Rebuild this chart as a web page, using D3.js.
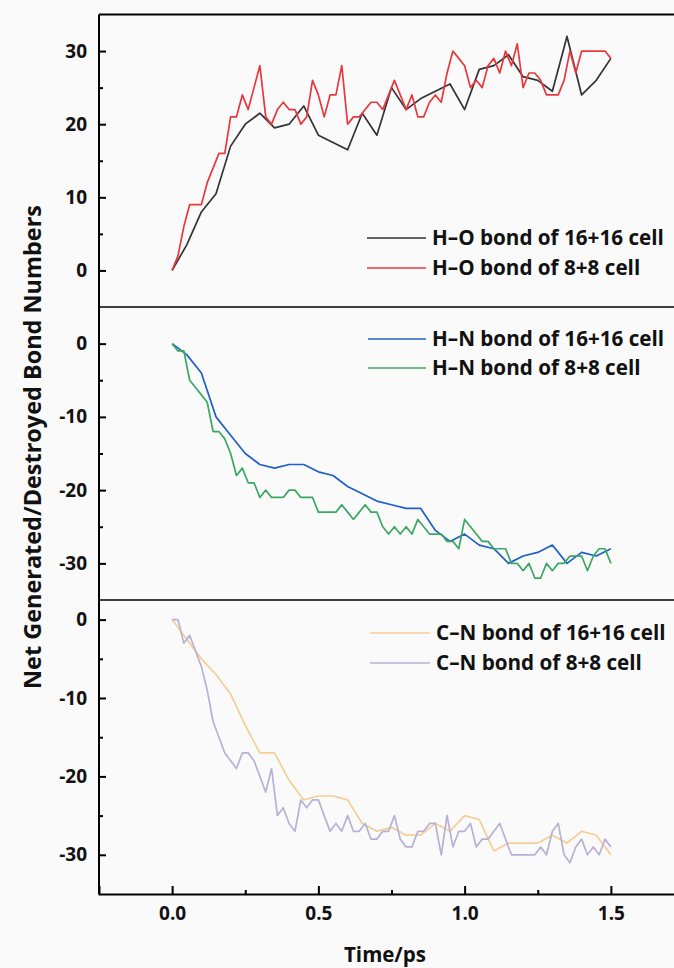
<!DOCTYPE html>
<html>
<head>
<meta charset="utf-8">
<script src="https://cdn.jsdelivr.net/npm/d3@7"></script>
<style>
  html, body { margin: 0; padding: 0; background: #fafafa; }
  svg { display: block; }
</style>
</head>
<body>
<svg id="chart" width="674" height="968"></svg>
<script>
// ---- data ----
const xTicks = [0.0, 0.5, 1.0, 1.5];
const dtCoarse = 0.05;   // 16+16 cell series sampling
const dtFine = 0.02;     // 8+8 cell series sampling

const hoLabels = ["H\u2013O bond of 16+16 cell", "H\u2013O bond of 8+8 cell"];
const ho16 = [0, 3.5, 8, 10.5, 17, 20, 21.5, 19.5, 20, 22.5, 18.5, 17.5, 16.5, 21.5, 18.5, 25,
  22, 23.5, 24.5, 25.5, 22, 27.5, 28, 29.5, 26.5, 26, 24.5, 32, 24, 26, 29];
const ho8 = [0, 2, 6, 9, 9, 9, 12, 14, 16, 16, 21, 21, 24, 22, 25, 28, 21, 20, 22, 23,
  22, 22, 20, 21, 26, 24, 21, 24, 24, 28, 20, 21, 21, 22, 23, 23, 22, 24, 26, 24,
  22, 24, 21, 21, 23, 24, 23, 27, 30, 29, 28, 25, 26, 25, 28, 29, 27, 30, 28, 31,
  25, 27, 27, 26, 24, 24, 24, 26, 30, 27, 30, 30, 30, 30, 30, 29];

const hnLabels = ["H\u2013N bond of 16+16 cell", "H\u2013N bond of 8+8 cell"];
const hn16 = [0, -1.5, -4, -10, -12.5, -15, -16.5, -17, -16.5, -16.5, -17.5, -18, -19.5, -20.5,
  -21.5, -22, -22.5, -22.5, -25.5, -27, -26, -27.5, -28, -30, -29, -28.5, -27.5, -30, -28.5, -29, -28];
const hn8 = [0, -1, -1, -5, -6, -7, -8, -12, -12, -13, -15, -18, -17, -19, -19, -21, -20, -21, -21, -21,
  -20, -20, -21, -21, -21, -23, -23, -23, -23, -22, -23, -24, -23, -22, -23, -23, -25, -26, -25, -26,
  -25, -26, -24, -25, -26, -26, -26, -27, -27, -28, -24, -25, -26, -27, -27, -28, -28, -28, -30, -30,
  -31, -30, -32, -32, -30, -31, -30, -30, -29, -29, -29, -31, -29, -28, -28, -30];

const cnLabels = ["C\u2013N bond of 16+16 cell", "C\u2013N bond of 8+8 cell"];
const cn16 = [0, -2.5, -5, -7, -9.5, -13.5, -17, -17, -20.5, -23, -22.5, -22.5, -23, -26, -27, -26.5,
  -27.5, -27.5, -26, -27, -25, -25.5, -29.5, -28.5, -28.5, -28.5, -27.5, -28.5, -27, -27.5, -30];
const cn8 = [0, 0, -3, -2, -4, -6, -9, -13, -15, -17, -18, -19, -17, -17, -18, -20, -22, -19, -25, -24,
  -26, -27, -23, -24, -23, -23, -25, -27, -26, -27, -25, -27, -27, -26, -28, -28, -27, -27, -25, -28,
  -29, -29, -27, -27, -26, -26, -30, -25, -29, -27, -27, -26, -29, -28, -28, -27, -26, -28, -30, -30,
  -30, -30, -30, -29, -30, -27, -26, -30, -31, -29, -28, -30, -29, -30, -28, -29];

const colors = {
  ho16: "#333333", ho8: "#e8383d",
  hn16: "#2060c8", hn8: "#3aa763",
  cn16: "#f6cd94", cn8: "#b9b0d6"
};

// ---- layout ----
const svg = d3.select("#chart");
const left = 99, axisRight = 684;
const x = d3.scaleLinear().domain([-0.25, 1.75]).range([left, axisRight]);
const FONT = "'Open Sans', Lato, sans-serif";
const TICK_FS = 19;

// shrink/grow font so a text element spans a target width
function fitWidth(sel, target) {
  const node = sel.node();
  const fs = parseFloat(sel.attr("font-size"));
  const w = node.getComputedTextLength();
  if (w > 0) sel.attr("font-size", (fs * target / w).toFixed(2));
  return sel;
}
const intFmt = d => String(d);

const panels = [
  { top: 14.5, bottom: 307, domain: [-5, 35], major: [0, 10, 20, 30], minor: [5, 15, 25],
    series: [{ v: ho16, dt: dtCoarse, c: colors.ho16, l: hoLabels[0] }, { v: ho8, dt: dtFine, c: colors.ho8, l: hoLabels[1] }],
    legend: { x0: 367, x1: 426, y: [238, 268] } },
  { top: 307, bottom: 600, domain: [-35, 5], major: [0, -10, -20, -30], minor: [-5, -15, -25],
    series: [{ v: hn16, dt: dtCoarse, c: colors.hn16, l: hnLabels[0] }, { v: hn8, dt: dtFine, c: colors.hn8, l: hnLabels[1] }],
    legend: { x0: 368, x1: 426, y: [339, 368] } },
  { top: 600, bottom: 894, domain: [-35, 2.5], major: [0, -10, -20, -30], minor: [-5, -15, -25],
    series: [{ v: cn16, dt: dtCoarse, c: colors.cn16, l: cnLabels[0] }, { v: cn8, dt: dtFine, c: colors.cn8, l: cnLabels[1] }],
    legend: { x0: 370, x1: 430, y: [633, 663] } }
];

let legendFont = null;

panels.forEach((p, pi) => {
  const y = d3.scaleLinear().domain(p.domain).range([p.bottom, p.top]);
  const g = svg.append("g");

  p.series.forEach(s => {
    const line = d3.line().x((d, i) => x(i * s.dt)).y(d => y(d));
    g.append("path").datum(s.v)
      .attr("d", line)
      .attr("fill", "none")
      .attr("stroke", s.c)
      .attr("stroke-width", 1.7)
      .attr("stroke-linejoin", "round");
  });

  // y axis major (ticks point inward)
  const yAxis = d3.axisLeft(y).tickValues(p.major).tickSize(-7).tickPadding(12).tickFormat(intFmt);
  const ya = g.append("g").attr("transform", `translate(${left},0)`).call(yAxis);
  ya.select(".domain").remove();
  ya.selectAll(".tick line").attr("stroke", "#000").attr("stroke-width", 2);
  ya.selectAll(".tick text").attr("font-family", FONT).attr("font-weight", "bold")
    .attr("font-size", TICK_FS).attr("fill", "#111");
  // y axis minor
  const yMinor = d3.axisLeft(y).tickValues(p.minor).tickSize(-4).tickFormat("");
  const ym = g.append("g").attr("transform", `translate(${left},0)`).call(yMinor);
  ym.select(".domain").remove();
  ym.selectAll(".tick line").attr("stroke", "#000").attr("stroke-width", 2);

  // top border / divider
  g.append("line").attr("x1", left).attr("x2", 674).attr("y1", p.top).attr("y2", p.top)
    .attr("stroke", "#000").attr("stroke-width", pi === 0 ? 2 : 1.6);

  // legend
  p.series.forEach((s, si) => {
    g.append("line").attr("x1", p.legend.x0).attr("x2", p.legend.x1)
      .attr("y1", p.legend.y[si]).attr("y2", p.legend.y[si])
      .attr("stroke", s.c).attr("stroke-width", 1.7);
    const t = g.append("text").attr("x", p.legend.x1 + 6).attr("y", p.legend.y[si])
      .attr("dy", "0.36em")
      .attr("font-family", FONT).attr("font-weight", "bold").attr("font-size", 17)
      .attr("fill", "#111").text(s.l);
    if (legendFont === null && si === 0) {
      fitWidth(t, 232);
      legendFont = +t.attr("font-size");
    } else {
      t.attr("font-size", legendFont);
    }
  });
});

// left axis line
svg.append("line").attr("x1", left).attr("x2", left).attr("y1", 14.5).attr("y2", 894)
  .attr("stroke", "#000").attr("stroke-width", 2);

// x axis
const xAxis = d3.axisBottom(x).tickValues(xTicks).tickSize(-8).tickPadding(13).tickFormat(d3.format(".1f"));
const xa = svg.append("g").attr("transform", "translate(0,894)").call(xAxis);
xa.select(".domain").attr("stroke", "#000").attr("stroke-width", 2);
xa.selectAll(".tick line").attr("stroke", "#000").attr("stroke-width", 2);
xa.selectAll(".tick text").attr("font-family", FONT).attr("font-weight", "bold")
  .attr("font-size", TICK_FS).attr("fill", "#111");
const xMinor = d3.axisBottom(x).tickValues([0.25, 0.75, 1.25]).tickSize(-4).tickFormat("");
const xm = svg.append("g").attr("transform", "translate(0,894)").call(xMinor);
xm.select(".domain").remove();
xm.selectAll(".tick line").attr("stroke", "#000").attr("stroke-width", 2);

// axis titles
const xt = svg.append("text").attr("x", 385).attr("y", 962)
  .attr("text-anchor", "middle")
  .attr("font-family", FONT).attr("font-weight", "bold").attr("font-size", 21)
  .attr("fill", "#111").text("Time/ps");
fitWidth(xt, 82);
const yt = svg.append("text")
  .attr("transform", "translate(41,447) rotate(-90)")
  .attr("text-anchor", "middle")
  .attr("font-family", FONT).attr("font-weight", "bold").attr("font-size", 21)
  .attr("fill", "#111").text("Net Generated/Destroyed Bond Numbers");
fitWidth(yt, 484);
</script>
</body>
</html>
